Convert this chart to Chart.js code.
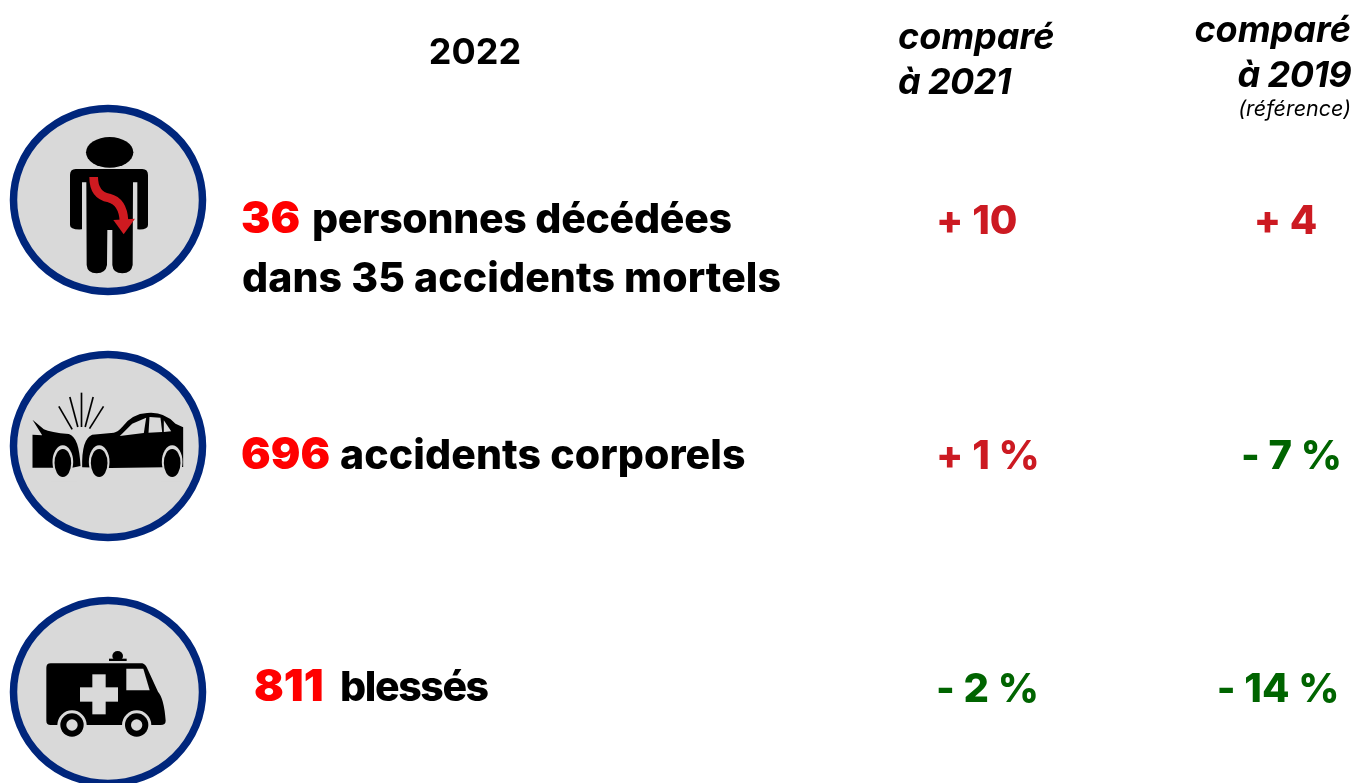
<!DOCTYPE html>
<html>
<head>
<meta charset="utf-8">
<title>Bilan 2022</title>
<script src="https://cdn.jsdelivr.net/npm/chart.js@4"></script>
<style>
  html, body { margin: 0; padding: 0; background: #fff; overflow: hidden; }
  canvas { display: block; }
</style>
</head>
<body>
<canvas id="chart" width="1353" height="783"></canvas>
<script>
// donnees
var headerYear = '2022';
var rowLabels = [['personnes décédées', 'dans 35 accidents mortels'], ['accidents corporels'], ['blessés']];
var values2022 = [36, 696, 811];
var vs2021 = [10, 1, -2];
var vs2019 = [4, -7, -14];
var deltaUnits = ['', ' %', ' %'];

// mise en page (pixels du dessin)
var iconX = 108;
var valueX = [241, 241, 254];
var labelX = [312, 340, 340];
var labelSpacing = [[-0.28, 0.08], [0.1], [-1.4]];
var delta2021X = 936;
var delta2019X = [1285.5, 1291.5, 1278];
var baseDy = [33, 23, 9];
var FONT = 'Inter, sans-serif';

function formatDelta(v, unit) {
  return (v < 0 ? '- ' : '+ ') + Math.abs(v) + unit;
}

var GREY = '#d9d9d9';

// pictogrammes: rond bleu (un peu ovale) + dessin, a l'echelle 3
function makeIcon(cx, cy, draw) {
  var c = document.createElement('canvas');
  c.width = 204;
  c.height = 196;
  var g = c.getContext('2d');
  g.fillStyle = GREY;
  g.strokeStyle = '#00267c';
  g.lineWidth = 7.5;
  g.beginPath();
  g.ellipse(102, 98, 94.5, 91.5, 0, 0, Math.PI * 2);
  g.fill();
  g.stroke();
  g.translate(102, 98);
  g.scale(1 / 3, 1 / 3);
  g.translate(-cx, -cy);
  draw(g);
  return c;
}

function poly(g, pts, color) {
  g.fillStyle = color;
  g.beginPath();
  pts.forEach(function (p, i) { i ? g.lineTo(p[0], p[1]) : g.moveTo(p[0], p[1]); });
  g.closePath();
  g.fill();
}

function oval(g, x, y, rx, ry, color) {
  g.fillStyle = color;
  g.beginPath();
  g.ellipse(x, y, rx, ry, 0, 0, Math.PI * 2);
  g.fill();
}

var personIcon = makeIcon(325, 315, function (g) {
  oval(g, 330, 172, 71, 46, '#000');
  g.fillStyle = '#000';
  g.beginPath();
  g.moveTo(228, 222);
  g.lineTo(428, 222);
  g.quadraticCurveTo(445, 222, 445, 240);
  g.lineTo(445, 390);
  g.quadraticCurveTo(445, 405, 413, 403);
  g.lineTo(413, 262);
  g.lineTo(400, 262);
  g.lineTo(399, 510);
  g.quadraticCurveTo(395, 535, 368, 535);
  g.quadraticCurveTo(340, 535, 338, 510);
  g.lineTo(338, 405);
  g.lineTo(323, 405);
  g.lineTo(322, 510);
  g.quadraticCurveTo(318, 535, 291, 535);
  g.quadraticCurveTo(263, 535, 261, 510);
  g.lineTo(260, 262);
  g.lineTo(247, 262);
  g.lineTo(247, 403);
  g.quadraticCurveTo(211, 405, 211, 390);
  g.lineTo(211, 240);
  g.quadraticCurveTo(211, 222, 228, 222);
  g.closePath();
  g.fill();
  // fleche rouge
  g.strokeStyle = '#cf1a20';
  g.lineWidth = 26;
  g.beginPath();
  g.moveTo(282, 246);
  g.bezierCurveTo(282, 290, 305, 305, 328, 309);
  g.bezierCurveTo(355, 316, 371, 340, 373, 378);
  g.stroke();
  poly(g, [[341, 375], [406, 371], [372, 418]], '#cf1a20');
});

var crashIcon = makeIcon(322.5, 302, function (g) {
  // etincelles
  g.strokeStyle = '#000';
  g.lineWidth = 5;
  [[215, 252, 175, 183], [232, 245, 208, 155], [243, 245, 243, 142], [254, 245, 278, 155], [267, 250, 309, 183]].forEach(function (l) {
    g.beginPath();
    g.moveTo(l[0], l[1]);
    g.lineTo(l[2], l[3]);
    g.stroke();
  });
  // voiture de gauche
  g.fillStyle = '#000';
  g.beginPath();
  g.moveTo(96, 223);
  g.lineTo(130, 252);
  g.quadraticCurveTo(150, 262, 205, 266);
  g.quadraticCurveTo(236, 275, 240, 362);
  g.lineTo(215, 367);
  g.lineTo(96, 367);
  g.lineTo(96, 268);
  g.lineTo(125, 270);
  g.closePath();
  g.fill();
  // voiture de droite
  g.beginPath();
  g.moveTo(245, 366);
  g.quadraticCurveTo(243, 280, 275, 268);
  g.lineTo(340, 262);
  g.quadraticCurveTo(352, 260, 365, 245);
  g.quadraticCurveTo(395, 205, 440, 203);
  g.quadraticCurveTo(490, 198, 525, 235);
  g.lineTo(548, 246);
  g.lineTo(548, 365);
  g.lineTo(330, 368);
  g.closePath();
  g.fill();
  // vitres
  poly(g, [[358, 272], [395, 235], [437, 217], [430, 263]], GREY);
  poly(g, [[447, 215], [480, 217], [485, 260], [444, 262]], GREY);
  poly(g, [[490, 225], [512, 258], [490, 260]], GREY);
  // roues
  [187, 296, 515].forEach(function (x) {
    oval(g, x, 350, 31, 50, GREY);
  });
  g.fillStyle = GREY;
  g.fillRect(150, 368, 80, 40);
  g.fillRect(262, 369, 70, 40);
  g.fillRect(480, 368, 70, 40);
  [187, 296, 515].forEach(function (x) {
    oval(g, x, 353, 25, 42, '#000');
  });
});

var ambulanceIcon = makeIcon(322, 306, function (g) {
  // gyrophare
  oval(g, 351, 198, 16, 15, '#000');
  g.fillStyle = '#000';
  g.fillRect(325, 206, 53, 7);
  // caisse
  g.beginPath();
  g.moveTo(150, 220);
  g.lineTo(425, 220);
  g.quadraticCurveTo(435, 222, 442, 240);
  g.lineTo(472, 305);
  g.quadraticCurveTo(490, 325, 495, 392);
  g.quadraticCurveTo(495, 405, 480, 405);
  g.lineTo(150, 405);
  g.quadraticCurveTo(137, 405, 137, 392);
  g.lineTo(137, 233);
  g.quadraticCurveTo(137, 220, 150, 220);
  g.closePath();
  g.fill();
  // fenetre et croix
  poly(g, [[377, 236], [428, 236], [447, 301], [377, 301]], GREY);
  g.fillStyle = GREY;
  g.fillRect(238, 292, 114, 43);
  g.fillRect(275, 253, 40, 120);
  // roues
  [214, 408].forEach(function (x) {
    oval(g, x, 405, 44, 44, GREY);
    oval(g, x, 405, 35, 35, '#000');
    oval(g, x, 405, 17, 17, GREY);
  });
});

var icons = [personIcon, crashIcon, ambulanceIcon];

function txt(ctx, s, x, y, font, color, align, spacing) {
  ctx.font = font;
  ctx.fillStyle = color;
  ctx.textAlign = align || 'left';
  ctx.textBaseline = 'alphabetic';
  ctx.letterSpacing = (spacing || 0) + 'px';
  ctx.fillText(s, x, y);
}

// ecrit les textes aux positions calculees par les echelles
var tableText = {
  id: 'tableText',
  afterDatasetsDraw: function (chart) {
    var ctx = chart.ctx;
    var sy = chart.scales.y;
    var row0 = sy.getPixelForValue(0);
    var valueMeta = chart.getDatasetMeta(1).data;
    var meta2021 = chart.getDatasetMeta(2).data;
    var meta2019 = chart.getDatasetMeta(3).data;
    ctx.save();

    // en-tetes
    txt(ctx, headerYear, chart.scales.x.getPixelForValue(475), row0 - 136, '700 36px ' + FONT, '#000', 'center');
    var it = 'italic 700 36px ' + FONT;
    txt(ctx, 'comparé', 898, row0 - 151, it, '#000', 'left');
    txt(ctx, 'à 2021', 898, row0 - 106, it, '#000', 'left', -0.6);
    txt(ctx, 'comparé', 1351, row0 - 158, it, '#000', 'right');
    txt(ctx, 'à 2019', 1351, row0 - 113, it, '#000', 'right', -0.6);
    txt(ctx, '(référence)', 1351, row0 - 84, 'italic 400 21.5px ' + FONT, '#000', 'right');

    var num = '900 44px ' + FONT;
    var bold = '800 41px ' + FONT;
    var deltaFont = '800 40px ' + FONT;
    values2022.forEach(function (v, i) {
      var p = valueMeta[i];
      var by = p.y + baseDy[i];
      txt(ctx, String(v), p.x, by, num, '#ff0000');
      rowLabels[i].forEach(function (line, k) {
        txt(ctx, line, k === 0 ? labelX[i] : valueX[i] + 1, by + k * 59, bold, '#000', 'left', labelSpacing[i][k]);
      });
      txt(ctx, formatDelta(vs2021[i], deltaUnits[i]), meta2021[i].x, by + (i === 1 ? 0 : 1), deltaFont, vs2021[i] < 0 ? '#006400' : '#cc1a22');
      txt(ctx, formatDelta(vs2019[i], deltaUnits[i]), meta2019[i].x, by + (i === 1 ? 0 : 1), deltaFont, vs2019[i] < 0 ? '#006400' : '#cc1a22', 'center');
    });
    ctx.restore();
  }
};

function columnPoints(xs) {
  return values2022.map(function (v, i) {
    return { x: Array.isArray(xs) ? xs[i] : xs, y: i };
  });
}

new Chart(document.getElementById('chart').getContext('2d'), {
  type: 'scatter',
  data: {
    datasets: [{
      label: 'pictos',
      data: columnPoints(iconX),
      pointRadius: 95,
      pointStyle: function (c) { return icons[c.dataIndex]; },
      clip: false
    }, {
      label: '2022',
      data: columnPoints(valueX),
      pointRadius: 0
    }, {
      label: 'comparé à 2021',
      data: columnPoints(delta2021X),
      pointRadius: 0
    }, {
      label: 'comparé à 2019',
      data: columnPoints(delta2019X),
      pointRadius: 0
    }]
  },
  options: {
    responsive: false,
    animation: false,
    layout: { padding: 0, autoPadding: false },
    plugins: { legend: { display: false }, tooltip: { enabled: false } },
    scales: {
      x: { type: 'linear', display: false, min: 0, max: 1353 },
      y: { type: 'linear', display: false, reverse: true, min: -0.813, max: 2.37 }
    }
  },
  plugins: [tableText]
});
</script>
</body>
</html>
